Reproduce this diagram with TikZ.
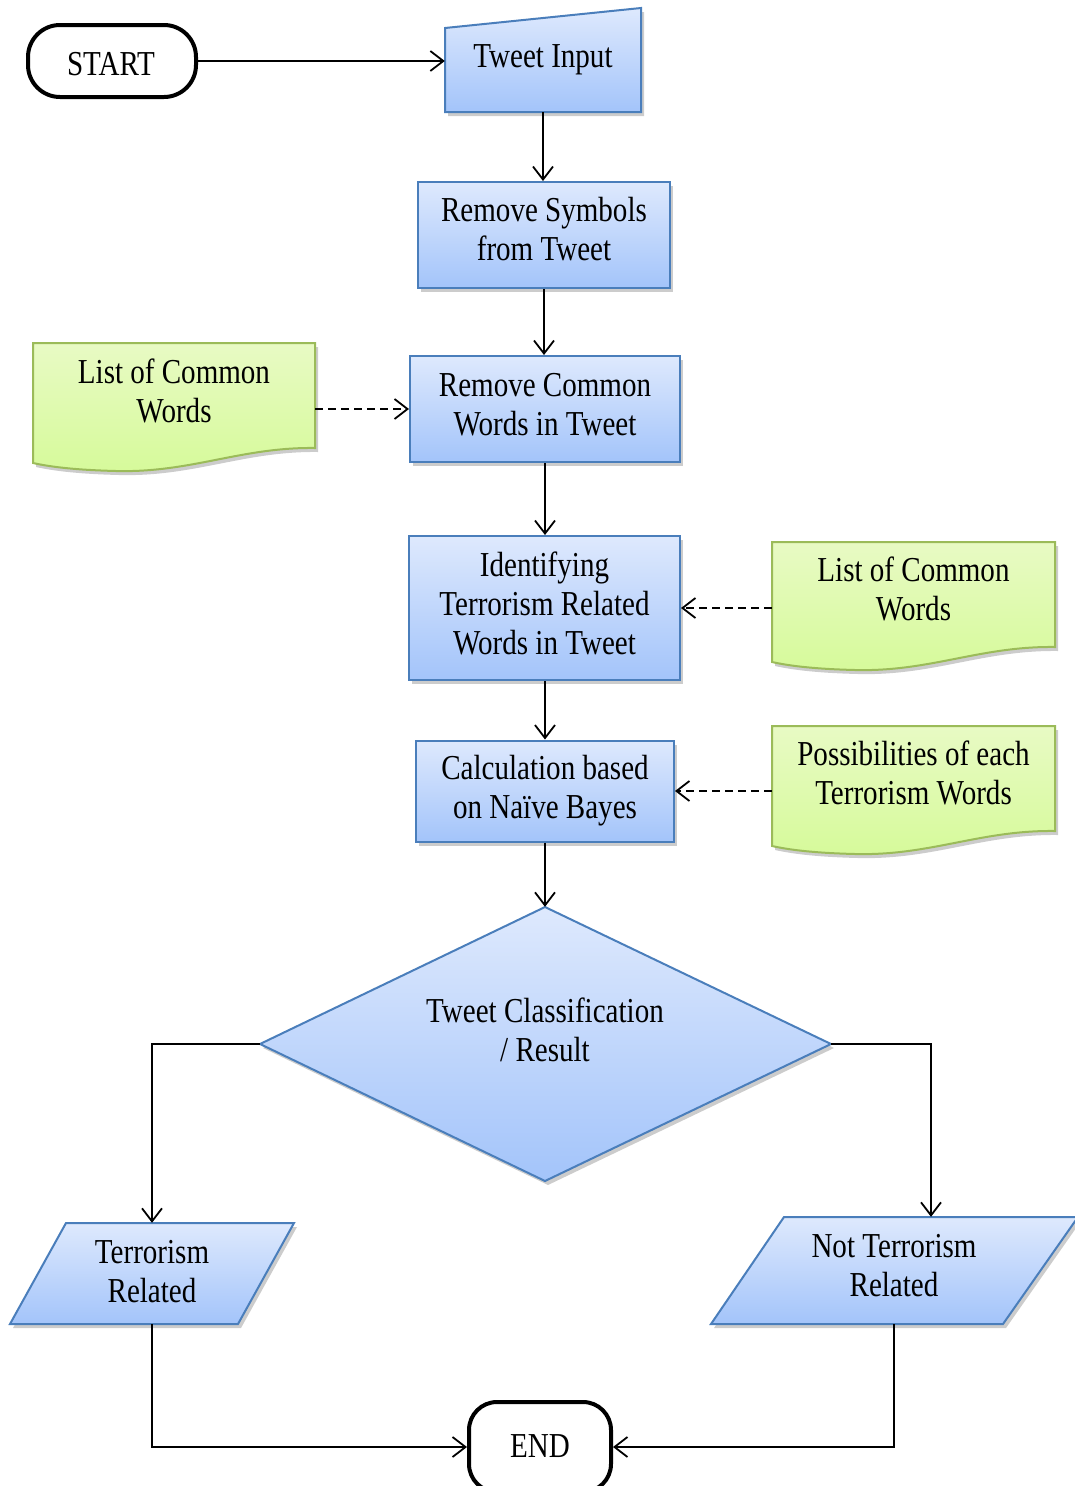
\documentclass[tikz,border=0pt]{standalone}
\usepackage{fontspec}
\setmainfont[FakeStretch=0.83]{Liberation Serif}
\usetikzlibrary{arrows.meta,shadows,calc}
\definecolor{bluetop}{RGB}{222,233,253}
\definecolor{bluebot}{RGB}{163,196,250}
\definecolor{blueline}{RGB}{74,126,187}
\definecolor{greentop}{RGB}{232,250,196}
\definecolor{greenbot}{RGB}{214,250,154}
\definecolor{greenline}{RGB}{155,187,89}
\begin{document}
\begin{tikzpicture}[x=1pt,y=-1pt,
 font=\fontsize{35}{39}\selectfont,
 shd/.style={drop shadow={shadow xshift=3pt,shadow yshift=-4pt,opacity=0.2,fill=black}},
 bluefill/.style={top color=bluetop,bottom color=bluebot,draw=blueline,line width=2pt,shd},
 greenfill/.style={top color=greentop,bottom color=greenbot,draw=greenline,line width=2pt,shd},
 procbox/.style={rectangle,bluefill,inner sep=0pt},
 txt/.style={align=center,inner sep=0pt},
 term/.style={rectangle,draw=black,line width=4pt,rounded corners=32pt,inner sep=0pt,fill=white},
 arr/.style={line width=1.8pt,-{Straight Barb[length=13pt,width=20pt]}},
 darr/.style={arr,dash pattern=on 8pt off 5pt}]
\useasboundingbox (0,0) rectangle (1074,1486);

% terminals
\node[term, minimum width=168pt, minimum height=72pt] (start) at (112,61) {};
\node[txt] (startT) at (111,64) {START};
\node[term, minimum width=142pt, minimum height=90pt, rounded corners=28pt] (end) at (540,1447) {};
\node[txt] (endT) at (540,1446) {END};

% Tweet input (manual input shape)
\draw[bluefill] (445,112) -- (641,112) -- (641,8) -- (445,28) -- cycle;
\node[txt, minimum width=196pt, minimum height=104pt] (ti) at (543,60) {Tweet Input};

% process boxes
\node[procbox, minimum width=252pt, minimum height=106pt] (rs) at (544,235) {};
\node[txt] (rsT) at (544,229.5) {Remove Symbols\\from Tweet};
\node[procbox, minimum width=270pt, minimum height=106pt] (rc) at (545,409) {};
\node[txt] (rcT) at (545,404.5) {Remove Common\\Words in Tweet};
\node[procbox, minimum width=271pt, minimum height=144pt] (id) at (544.5,608) {};
\node[txt] (idT) at (544.5,603) {Identifying\\Terrorism Related\\Words in Tweet};
\node[procbox, minimum width=258pt, minimum height=101pt] (calc) at (545,791) {};
\node[txt] (calcT) at (545,791) {Calculation based\\on Naïve Bayes};

% documents
\draw[greenfill] (33,343) -- (315,343) -- (315,448) .. controls (241,447) and (191,473) .. (116,471) .. controls (76,470) and (51,467) .. (33,463) -- cycle;
\node[txt, minimum width=282pt] (d1) at (174,390.5) {List of Common\\Words};
\draw[greenfill] (772,542) -- (1055,542) -- (1055,647) .. controls (980,646) and (930,672) .. (855,670) .. controls (815,669) and (790,666) .. (772,662) -- cycle;
\node[txt, minimum width=283pt] (d2) at (913.5,588.5) {List of Common\\Words};
\draw[greenfill] (772,726) -- (1055,726) -- (1055,831) .. controls (980,830) and (930,856) .. (855,854) .. controls (815,853) and (790,850) .. (772,846) -- cycle;
\node[txt, minimum width=283pt] (d3) at (913.5,772.5) {Possibilities of each\\Terrorism Words};

% decision
\draw[bluefill] (545,907) -- (831,1044) -- (545,1181) -- (260,1044) -- cycle;
\node[inner sep=0pt, minimum width=571pt, minimum height=274pt] (dia) at (545.5,1044) {};
\node[txt] (diat) at (545,1029.5) {Tweet Classification\\/ Result};

% outputs
\draw[bluefill] (66,1223) -- (294,1223) -- (238,1324) -- (10,1324) -- cycle;
\node[inner sep=0pt, minimum height=101pt] (tr) at (152,1273.5) {};
\node[txt] (trT) at (152,1271.5) {Terrorism\\Related};
\draw[bluefill] (784,1217) -- (1078,1217) -- (1003,1324) -- (711,1324) -- cycle;
\node[inner sep=0pt, minimum height=107pt] (ntr) at (894,1270.5) {};
\node[txt] (ntrT) at (894,1266) {Not Terrorism\\Related};

% connectors
\draw[arr] (start.east) -- (start.east -| ti.west);
\draw[arr] (ti.south) -- (ti.south |- rs.north);
\draw[arr] (rs.south) -- (rs.south |- rc.north);
\draw[arr] (rc.south) -- (rc.south |- id.north);
\draw[arr] (calc.north |- id.south) -- (calc.north);
\draw[arr] (calc.south) -- (calc.south |- dia.north);
\draw[darr] (d1.east |- rc.west) -- (rc.west);
\draw[darr] (d2.west |- id.east) -- (id.east);
\draw[darr] (d3.west |- calc.east) -- (calc.east);
\draw[arr] (dia.west) -| (tr.north);
\draw[arr] (dia.east) -| ([xshift=37pt]ntr.north);
\draw[arr] (tr.south) |- (end.west);
\draw[arr] (ntr.south) |- (end.east);
\end{tikzpicture}
\end{document}
